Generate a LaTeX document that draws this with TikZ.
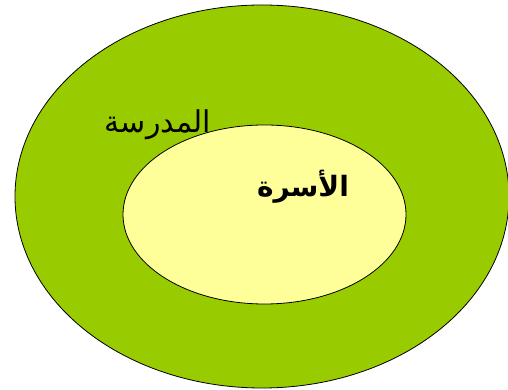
\documentclass[tikz,border=0pt]{standalone}
\usepackage{fontspec}
\newfontfamily\arabicfont[Script=Arabic]{DejaVu Sans}
\TeXXeTstate=1
\usetikzlibrary{shapes.geometric}
\definecolor{schoolgreen}{HTML}{99CC00}
\definecolor{familyyellow}{HTML}{FFFF99}
\begin{document}
\begin{tikzpicture}[x=1pt,y=1pt,
  ring/.style={ellipse,draw,line width=0.8pt,inner sep=0pt},
  lbl/.style={inner sep=0pt,font=\arabicfont\fontsize{30}{36}\selectfont}]
\useasboundingbox (0,0) rectangle (508,390);
\node[ring,fill=schoolgreen,minimum width=494,minimum height=383] (school) at (262,193.5) {};
\node[ring,fill=familyyellow,minimum width=283,minimum height=179] (family) at (264.5,175.5) {};
\node[lbl] (schoollbl) at (158,265) {\beginR المدرسة\endR};
\node[lbl,font=\arabicfont\bfseries\fontsize{28}{34}\selectfont] (familylbl) at (303,203) {\beginR الأسرة\endR};
\end{tikzpicture}
\end{document}
